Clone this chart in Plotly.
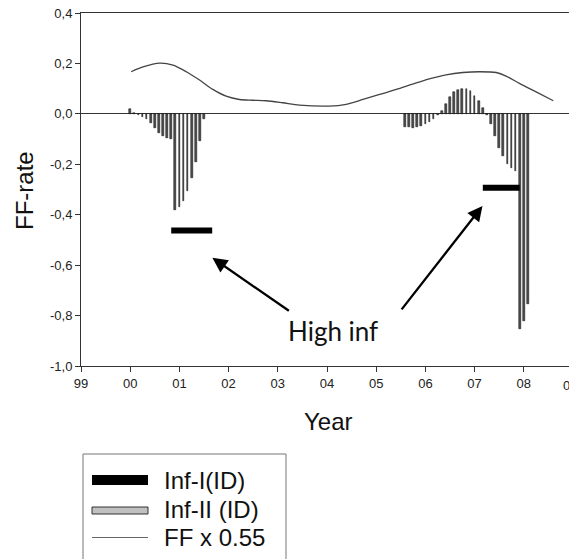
import plotly.graph_objects as go

# ---------------- data ----------------
# Inf-II (ID): monthly bars, month index counted from Jan 2000
inf2_month = [0, 1, 2, 3, 4, 5, 6, 7, 8, 9, 10, 11, 12, 13, 14, 15, 16, 17, 18,
              67, 68, 69, 70, 71, 72, 73, 74, 75, 76, 77, 78, 79, 80, 81, 82, 83,
              84, 85, 86, 87, 88, 89, 90, 91, 92, 93, 94, 95, 96, 97]
inf2_value = [0.02, 0.005, -0.003, -0.012, -0.022, -0.035, -0.058, -0.077, -0.088,
              -0.095, -0.10, -0.383, -0.37, -0.346, -0.306, -0.253, -0.19, -0.107, -0.021,
              -0.052, -0.054, -0.055, -0.052, -0.048, -0.041, -0.031, -0.021, -0.006,
              0.012, 0.041, 0.065, 0.085, 0.094, 0.098, 0.097, 0.089, 0.072, 0.052,
              0.025, -0.004, -0.041, -0.089, -0.134, -0.167, -0.198, -0.215, -0.225,
              -0.855, -0.822, -0.754]

# Inf-I (ID): two horizontal periods (start month, end month, level)
inf1_start = [10, 86]
inf1_end = [20, 95]
inf1_level = [-0.463, -0.293]

# FF x 0.55 curve
ff_year = [2000.02, 2000.26, 2000.60, 2000.87, 2001.14, 2001.41, 2001.68, 2001.95,
           2002.22, 2002.49, 2002.76, 2003.10, 2003.44, 2004.05, 2004.39, 2004.73,
           2005.07, 2005.41, 2005.74, 2006.08, 2006.42, 2006.76, 2007.10, 2007.44,
           2007.64, 2007.91, 2008.25, 2008.60]
ff_value = [0.167, 0.186, 0.201, 0.193, 0.167, 0.134, 0.097, 0.070,
            0.057, 0.054, 0.052, 0.044, 0.035, 0.031, 0.038, 0.057,
            0.077, 0.097, 0.118, 0.139, 0.155, 0.164, 0.167, 0.164,
            0.150, 0.121, 0.087, 0.052]

x_tickvals = [1999, 2000, 2001, 2002, 2003, 2004, 2005, 2006, 2007, 2008]
x_ticktext = ["99", "00", "01", "02", "03", "04", "05", "06", "07", "08"]
y_tickvals = [0.4, 0.2, 0.0, -0.2, -0.4, -0.6, -0.8, -1.0]
y_ticktext = ["0,4", "0,2", "0,0", "-0,2", "-0,4", "-0,6", "-0,8", "-1,0"]

legend_labels = ["Inf-I(ID)", "Inf-II (ID)", "FF x 0.55"]
annot_text = "High inf"

# ---------------- layout geometry (px) ----------------
W, H = 569, 559
ML, MT, MB, MR = 81, 13, 193, 0
PW = W - ML - MR
PH = H - MT - MB
X0 = 1999.0
PX_PER_YEAR = 49.2
X1 = X0 + PW / PX_PER_YEAR


def px(xp):
    return (xp - ML) / PW


def py(yp):
    return (H - MB - yp) / PH


fig = go.Figure()

bar_x = [2000 + m / 12 for m in inf2_month]
fig.add_trace(go.Bar(
    x=bar_x, y=inf2_value, width=0.034,
    marker=dict(color="#505050", line=dict(color="#000000", width=0.5)),
    showlegend=False, hoverinfo="skip"))

fig.add_trace(go.Scatter(
    x=ff_year, y=ff_value, mode="lines",
    line=dict(color="#444444", width=1.3, shape="spline", smoothing=0.8),
    showlegend=False, hoverinfo="skip"))

for s, e, lv in zip(inf1_start, inf1_end, inf1_level):
    fig.add_trace(go.Scatter(
        x=[2000 + s / 12, 2000 + e / 12], y=[lv, lv], mode="lines",
        line=dict(color="black", width=6), showlegend=False, hoverinfo="skip"))

axis_font = dict(family="Liberation Sans, Arial, sans-serif", size=13, color="#222222")

fig.update_xaxes(range=[X0, X1], tickvals=x_tickvals, ticktext=x_ticktext,
                 showgrid=False, zeroline=False, showline=True, linecolor="#333333",
                 linewidth=1, mirror=True, ticks="outside", ticklen=5, tickcolor="#333333",
                 tickfont=axis_font)
fig.update_yaxes(range=[-1.0, 0.4], tickvals=y_tickvals, ticktext=y_ticktext,
                 showgrid=False, zeroline=True, zerolinecolor="#333333", zerolinewidth=1,
                 showline=True, linecolor="#333333", linewidth=1, mirror=False,
                 ticks="outside", ticklen=5, tickcolor="#333333", tickfont=axis_font)

annotations = []
# partially visible "09" tick label at the right edge
annotations.append(dict(xref="paper", yref="paper", x=px(569.5), y=py(385.5),
                        text="09", showarrow=False, font=axis_font,
                        xanchor="center", yanchor="middle"))
# axis titles
annotations.append(dict(xref="paper", yref="paper", x=px(24), y=py(191), text="FF-rate",
                        textangle=-90, showarrow=False,
                        font=dict(family="Liberation Sans, Arial", size=24, color="#111111"),
                        xanchor="center", yanchor="middle"))
annotations.append(dict(xref="paper", yref="paper", x=px(328), y=py(421), text="Year",
                        showarrow=False,
                        font=dict(family="Liberation Sans, Arial", size=24, color="#111111"),
                        xanchor="center", yanchor="middle"))
# High inf text
annotations.append(dict(xref="paper", yref="paper", x=px(333), y=py(331), text=annot_text,
                        showarrow=False,
                        font=dict(family="Lato, Open Sans, sans-serif", size=26, color="#111111"),
                        xanchor="center", yanchor="middle"))
# arrows (tip in data coords, tail offset in px)
arrow_tips = [(2001.67, -0.571), (2007.16, -0.365)]
arrow_tails = [(78, 54), (-82, 105)]
for (tx, ty), (ax, ay) in zip(arrow_tips, arrow_tails):
    annotations.append(dict(x=tx, y=ty, xref="x", yref="y", ax=ax, ay=ay,
                            showarrow=True, arrowhead=2, arrowsize=1.3, arrowwidth=2.3,
                            arrowcolor="black", text=""))

# legend (manual)
shapes = []
shapes.append(dict(type="rect", xref="paper", yref="paper", x0=px(83), x1=px(286),
                   y0=py(454), y1=py(620), line=dict(color="#777777", width=1),
                   fillcolor="white", layer="above"))
shapes.append(dict(type="rect", xref="paper", yref="paper", x0=px(92), x1=px(148),
                   y0=py(475), y1=py(485), line=dict(color="black", width=0),
                   fillcolor="black", layer="above"))
shapes.append(dict(type="rect", xref="paper", yref="paper", x0=px(92), x1=px(148),
                   y0=py(507), y1=py(514), line=dict(color="#333333", width=1),
                   fillcolor="#c0c0c0", layer="above"))
shapes.append(dict(type="line", xref="paper", yref="paper", x0=px(92), x1=px(148),
                   y0=py(537.5), y1=py(537.5), line=dict(color="#666666", width=1),
                   layer="above"))
leg_y = [480, 509, 537]
for lab, yy in zip(legend_labels, leg_y):
    annotations.append(dict(xref="paper", yref="paper", x=px(162), y=py(yy), text=lab,
                            showarrow=False,
                            font=dict(family="Liberation Sans, Arial", size=24, color="#111111"),
                            xanchor="left", yanchor="middle"))

fig.update_layout(width=W, height=H, margin=dict(l=ML, r=MR, t=MT, b=MB),
                  plot_bgcolor="white", paper_bgcolor="white", bargap=0,
                  showlegend=False, annotations=annotations, shapes=shapes)

fig.write_html("out.html")
